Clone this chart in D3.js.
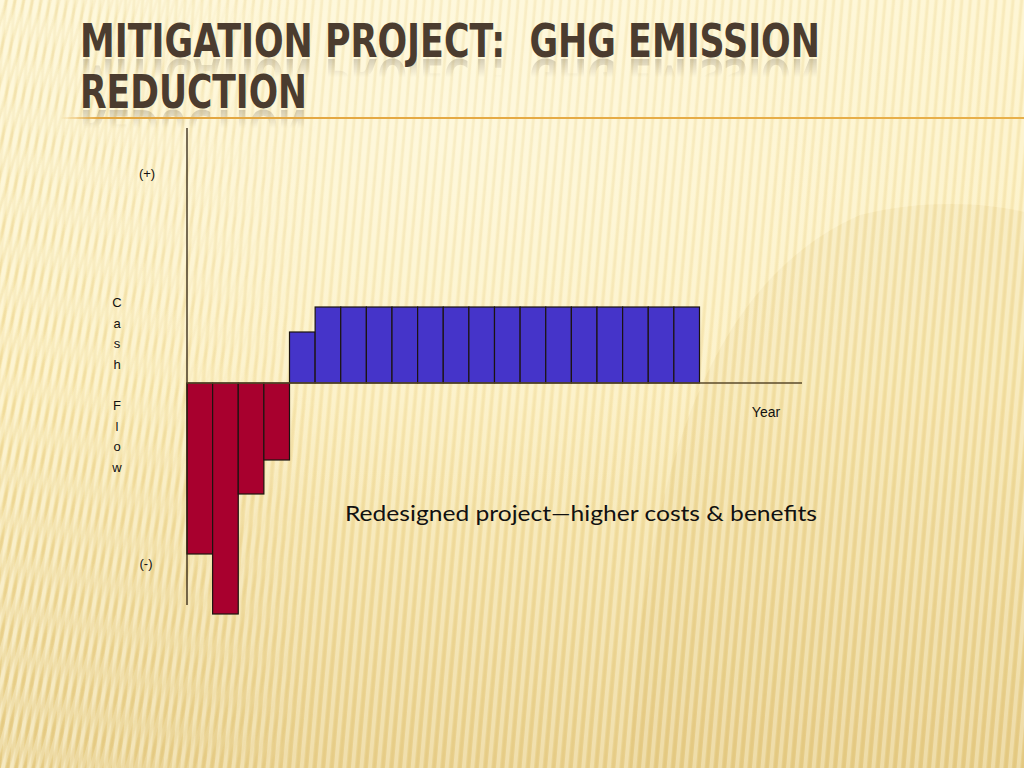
<!DOCTYPE html>
<html>
<head>
<meta charset="utf-8">
<script src="https://cdnjs.cloudflare.com/ajax/libs/d3/7.8.5/d3.min.js"></script>
<style>
  html, body { margin: 0; padding: 0; overflow: hidden; }
  svg { display: block; }
</style>
</head>
<body>
<script>
// CHART DATA
var years = d3.range(1, 25);               // 24 slots on the year axis, 20 with bars
var cashFlow = [-6.84, -9.24, -4.44, -3.08, // costs (first four years)
                2.04, 3.04, 3.04, 3.04, 3.04, 3.04, 3.04, 3.04,
                3.04, 3.04, 3.04, 3.04, 3.04, 3.04, 3.04, 3.04];
var titleLines = ["MITIGATION PROJECT:\u00a0 GHG EMISSION", "REDUCTION"];
var yLabelLetters = ["C", "a", "s", "h", "", "F", "l", "o", "w"];
var note = "Redesigned project\u2014higher costs & benefits";

// SIZES
var W = 1024, H = 768;
var plot = {left: 187, right: 802, top: 128, bottom: 605};

var svg = d3.select("body").append("svg")
    .attr("width", W).attr("height", H);
var defs = svg.append("defs");

// ---------- background ----------
var bg = defs.append("linearGradient").attr("id", "bg")
    .attr("x1", 0).attr("y1", 0).attr("x2", 0).attr("y2", 1);
bg.append("stop").attr("offset", "0%").attr("stop-color", "#fdf3cc");
bg.append("stop").attr("offset", "50%").attr("stop-color", "#faeab4");
bg.append("stop").attr("offset", "100%").attr("stop-color", "#e8cf8c");

// stripe patterns, steeper on the right, more slanted on the left
function stripePattern(id, angle) {
  var p = defs.append("pattern").attr("id", id)
      .attr("patternUnits", "userSpaceOnUse")
      .attr("width", 8.5).attr("height", 40)
      .attr("patternTransform", "rotate(" + angle + ")");
  p.append("rect").attr("x", 0).attr("y", 0).attr("width", 4).attr("height", 40)
      .attr("fill", "#fffbe8").attr("opacity", 0.35);
  p.append("rect").attr("x", 5).attr("y", 0).attr("width", 2.5).attr("height", 40)
      .attr("fill", "#d4b25a").attr("opacity", 0.15);
}
stripePattern("stripes", 5);
stripePattern("stripesL", 16);

// left stripes fade into the right ones
var lf = defs.append("linearGradient").attr("id", "lf");
lf.append("stop").attr("offset", "0%").attr("stop-color", "#fff").attr("stop-opacity", 1);
lf.append("stop").attr("offset", "100%").attr("stop-color", "#fff").attr("stop-opacity", 0);
defs.append("mask").attr("id", "lmask")
    .attr("maskUnits", "userSpaceOnUse")
    .attr("x", 0).attr("y", 0).attr("width", W).attr("height", H)
  .append("rect").attr("width", 320).attr("height", H).attr("fill", "url(#lf)");

var glow = defs.append("radialGradient").attr("id", "glow")
    .attr("cx", 0.45).attr("cy", 0.15).attr("r", 0.55);
glow.append("stop").attr("offset", "0%").attr("stop-color", "#fffbe6").attr("stop-opacity", 0.55);
glow.append("stop").attr("offset", "100%").attr("stop-color", "#fffbe6").attr("stop-opacity", 0);

svg.append("rect").attr("width", W).attr("height", H).attr("fill", "url(#bg)");
svg.append("rect").attr("width", W).attr("height", H).attr("fill", "url(#glow)");
// big soft swoosh at the right
svg.append("path")
    .attr("d", "M630,768 C640,520 690,290 860,215 C930,198 990,204 1024,212 L1024,768 Z")
    .attr("fill", "#d6b562").attr("opacity", 0.15);
svg.append("rect").attr("width", W).attr("height", H).attr("fill", "url(#stripes)");
svg.append("rect").attr("width", 320).attr("height", H).attr("fill", "url(#stripesL)")
    .attr("mask", "url(#lmask)");

// ---------- title ----------
var titleFont = "bold 47px 'Liberation Sans Narrow', 'DejaVu Sans Condensed', sans-serif";
var titleY = [57, 108], titleW = [740, 227];
var title = svg.append("g");
titleLines.forEach(function(t, i) {
  title.append("text")
      .attr("id", "title" + i)
      .attr("x", 80).attr("y", titleY[i])
      .attr("textLength", titleW[i]).attr("lengthAdjust", "spacingAndGlyphs")
      .style("font", titleFont)
      .attr("fill", "#4b3c2f")
      .text(t);

  // faded reflection right under the line
  var g = defs.append("linearGradient").attr("id", "rf" + i)
      .attr("gradientUnits", "userSpaceOnUse")
      .attr("x1", 0).attr("y1", titleY[i]).attr("x2", 0).attr("y2", titleY[i] + 20);
  g.append("stop").attr("offset", "0%").attr("stop-color", "#fff").attr("stop-opacity", 0.45);
  g.append("stop").attr("offset", "100%").attr("stop-color", "#fff").attr("stop-opacity", 0);
  defs.append("mask").attr("id", "rm" + i)
      .attr("maskUnits", "userSpaceOnUse")
      .attr("x", 0).attr("y", 0).attr("width", W).attr("height", H)
    .append("rect").attr("x", 0).attr("y", titleY[i] + 1).attr("width", W).attr("height", 20)
      .attr("fill", "url(#rf" + i + ")");
  svg.append("g").attr("mask", "url(#rm" + i + ")")
    .append("use")
      .attr("href", "#title" + i)
      .attr("transform", "translate(0," + (2 * titleY[i] + 2) + ") scale(1,-1)")
      .attr("opacity", 0.55);
});

var rule = defs.append("linearGradient").attr("id", "rule");
rule.append("stop").attr("offset", "0%").attr("stop-color", "#e3a640").attr("stop-opacity", 0);
rule.append("stop").attr("offset", "4%").attr("stop-color", "#e3a640").attr("stop-opacity", 1);
rule.append("stop").attr("offset", "100%").attr("stop-color", "#e8b04a").attr("stop-opacity", 1);
svg.append("rect").attr("x", 60).attr("y", 117).attr("width", W - 60).attr("height", 2)
    .attr("fill", "url(#rule)");

// ---------- chart ----------
var x = d3.scaleBand().domain(years).range([plot.left, plot.right]).paddingInner(0);
var y = d3.scaleLinear().domain([-8.88, 10.2]).range([plot.bottom, plot.top]);

var chart = svg.append("g");
chart.selectAll("rect.bar")
    .data(cashFlow)
  .enter().append("rect")
    .attr("class", "bar")
    .attr("x", function(d, i) { return x(years[i]); })
    .attr("width", x.bandwidth())
    .attr("y", function(d) { return d > 0 ? y(d) : y(0); })
    .attr("height", function(d) { return Math.abs(y(d) - y(0)); })
    .attr("fill", function(d) { return d < 0 ? "#a8002e" : "#4534c9"; })
    .attr("stroke", "#1c1410").attr("stroke-width", 1.2);

// axes (plain lines, no ticks)
chart.append("line")
    .attr("x1", x.range()[0]).attr("x2", x.range()[0])
    .attr("y1", y.range()[1]).attr("y2", y.range()[0])
    .attr("stroke", "#2e2110").attr("stroke-width", 1.3);
chart.append("line")
    .attr("x1", x.range()[0]).attr("x2", x.range()[1])
    .attr("y1", y(0)).attr("y2", y(0))
    .attr("stroke", "#5a4a2a").attr("stroke-width", 1.3);

// labels
var lab = "13px 'Liberation Sans', Arial, sans-serif";
chart.append("text").attr("x", 147).attr("y", 178).attr("text-anchor", "middle")
    .style("font", lab).attr("fill", "#111").text("(+)");
chart.append("text").attr("x", 146).attr("y", 568).attr("text-anchor", "middle")
    .style("font", lab).attr("fill", "#111").text("(-)");
chart.selectAll("text.ylab")
    .data(yLabelLetters)
  .enter().append("text")
    .attr("class", "ylab")
    .attr("x", 117).attr("y", function(d, i) { return 307 + i * 20.6; })
    .attr("text-anchor", "middle")
    .style("font", lab).attr("fill", "#111")
    .text(function(d) { return d; });
chart.append("text").attr("x", 766).attr("y", 417).attr("text-anchor", "middle")
    .style("font", "14px 'Liberation Sans', Arial, sans-serif").attr("fill", "#111").text("Year");

chart.append("text").attr("x", 345).attr("y", 521)
    .attr("textLength", 472).attr("lengthAdjust", "spacingAndGlyphs")
    .style("font", "21px Lato, 'Open Sans', sans-serif").attr("fill", "#111")
    .text(note);
</script>
</body>
</html>
